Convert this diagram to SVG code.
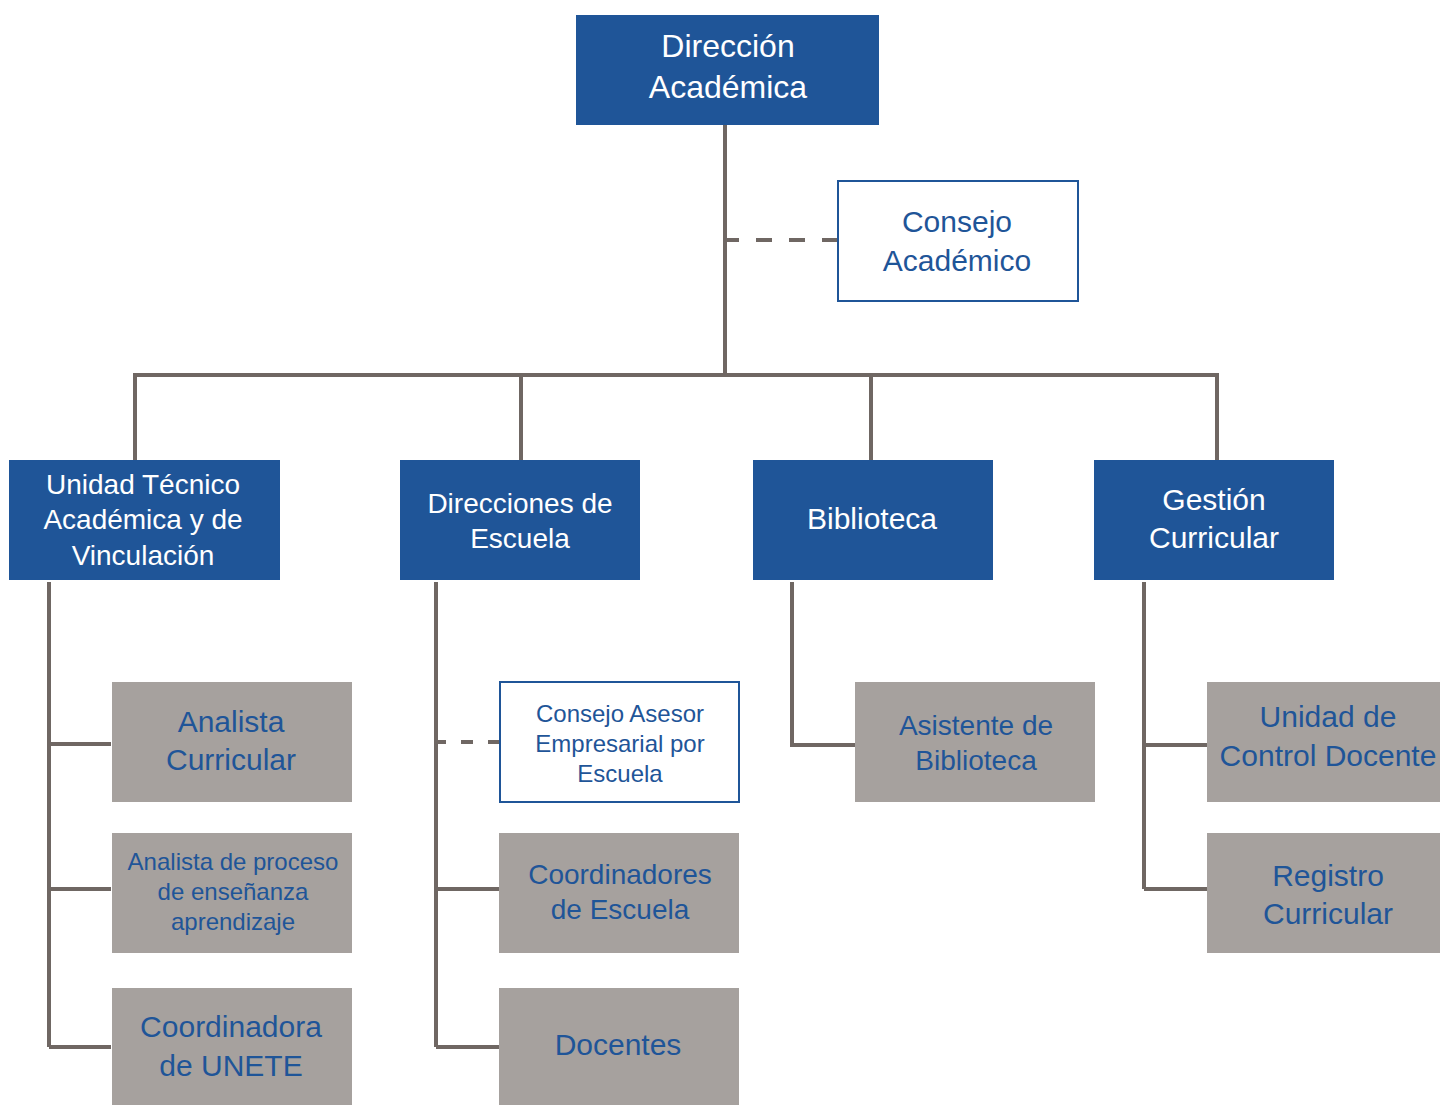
<svg xmlns="http://www.w3.org/2000/svg" width="1440" height="1105" viewBox="0 0 1440 1105">
<style>
.blue{fill:#1F5598}
.gray{fill:#A6A19E}
.outl{fill:#FFFFFF;stroke:#1F5598;stroke-width:2}
.wt{fill:#FFFFFF;font-family:"Liberation Sans",Arial,sans-serif;text-anchor:middle}
.bt{fill:#1F5598;font-family:"Liberation Sans",Arial,sans-serif;text-anchor:middle}
.ln{fill:none;stroke:#6F6763;stroke-width:4}
.dash{fill:none;stroke:#6F6763;stroke-width:4}
</style>
<rect width="1440" height="1105" fill="#FFFFFF"/>
<g id="connectors">
<path class="ln" d="M725 125V375"/>
<path class="dash" stroke-dasharray="16 17" d="M723 240H838"/>
<path class="ln" d="M135 460V375H1217V460M521 375V460M871 375V460"/>
<path class="ln" d="M49 582V1047M49 744H111M49 889H111M49 1047H111"/>
<path class="ln" d="M436 582V1047M436 889H499M436 1047H499"/>
<path class="dash" stroke-dasharray="12 15" d="M434 742H499"/>
<path class="ln" d="M792 582V745H855"/>
<path class="ln" d="M1144 582V889M1144 745H1207M1144 889H1207"/>
</g>
<g id="direccion-academica">
<rect class="blue" x="576" y="15" width="303" height="110"/>
<text class="wt" font-size="32"><tspan x="728" y="57">Dirección</tspan><tspan x="728" y="98">Académica</tspan></text>
</g>
<g id="consejo-academico">
<rect class="outl" x="838" y="181" width="240" height="120"/>
<text class="bt" font-size="30"><tspan x="957" y="231.5">Consejo</tspan><tspan x="957" y="270.5">Académico</tspan></text>
</g>
<g id="unidad-tecnico">
<rect class="blue" x="9" y="460" width="271" height="120"/>
<text class="wt" font-size="28"><tspan x="143" y="494">Unidad Técnico</tspan><tspan x="143" y="529">Académica y de</tspan><tspan x="143" y="565">Vinculación</tspan></text>
</g>
<g id="direcciones-escuela">
<rect class="blue" x="400" y="460" width="240" height="120"/>
<text class="wt" font-size="28"><tspan x="520" y="513">Direcciones de</tspan><tspan x="520" y="548">Escuela</tspan></text>
</g>
<g id="biblioteca">
<rect class="blue" x="753" y="460" width="240" height="120"/>
<text class="wt" font-size="30" x="872" y="528.5">Biblioteca</text>
</g>
<g id="gestion-curricular">
<rect class="blue" x="1094" y="460" width="240" height="120"/>
<text class="wt" font-size="30"><tspan x="1214" y="509.5">Gestión</tspan><tspan x="1214" y="547.5">Curricular</tspan></text>
</g>
<g id="analista-curricular">
<rect class="gray" x="112" y="682" width="240" height="120"/>
<text class="bt" font-size="30"><tspan x="231" y="732">Analista</tspan><tspan x="231" y="770">Curricular</tspan></text>
</g>
<g id="analista-proceso">
<rect class="gray" x="112" y="833" width="240" height="120"/>
<text class="bt" font-size="24"><tspan x="233" y="870">Analista de proceso</tspan><tspan x="233" y="900">de enseñanza</tspan><tspan x="233" y="930">aprendizaje</tspan></text>
</g>
<g id="coordinadora-unete">
<rect class="gray" x="112" y="988" width="240" height="117"/>
<text class="bt" font-size="30"><tspan x="231" y="1037">Coordinadora</tspan><tspan x="231" y="1076">de UNETE</tspan></text>
</g>
<g id="consejo-asesor">
<rect class="outl" x="500" y="682" width="239" height="120"/>
<text class="bt" font-size="24"><tspan x="620" y="722">Consejo Asesor</tspan><tspan x="620" y="752">Empresarial por</tspan><tspan x="620" y="782">Escuela</tspan></text>
</g>
<g id="coordinadores-escuela">
<rect class="gray" x="499" y="833" width="240" height="120"/>
<text class="bt" font-size="28"><tspan x="620" y="884">Coordinadores</tspan><tspan x="620" y="919">de Escuela</tspan></text>
</g>
<g id="docentes">
<rect class="gray" x="499" y="988" width="240" height="117"/>
<text class="bt" font-size="30" x="618" y="1055">Docentes</text>
</g>
<g id="asistente-biblioteca">
<rect class="gray" x="855" y="682" width="240" height="120"/>
<text class="bt" font-size="28"><tspan x="976" y="735">Asistente de</tspan><tspan x="976" y="770">Biblioteca</tspan></text>
</g>
<g id="unidad-control-docente">
<rect class="gray" x="1207" y="682" width="233" height="120"/>
<text class="bt" font-size="30"><tspan x="1328" y="726.5">Unidad de</tspan><tspan x="1328" y="765.5">Control Docente</tspan></text>
</g>
<g id="registro-curricular">
<rect class="gray" x="1207" y="833" width="233" height="120"/>
<text class="bt" font-size="30"><tspan x="1328" y="885.5">Registro</tspan><tspan x="1328" y="923.5">Curricular</tspan></text>
</g>
</svg>
